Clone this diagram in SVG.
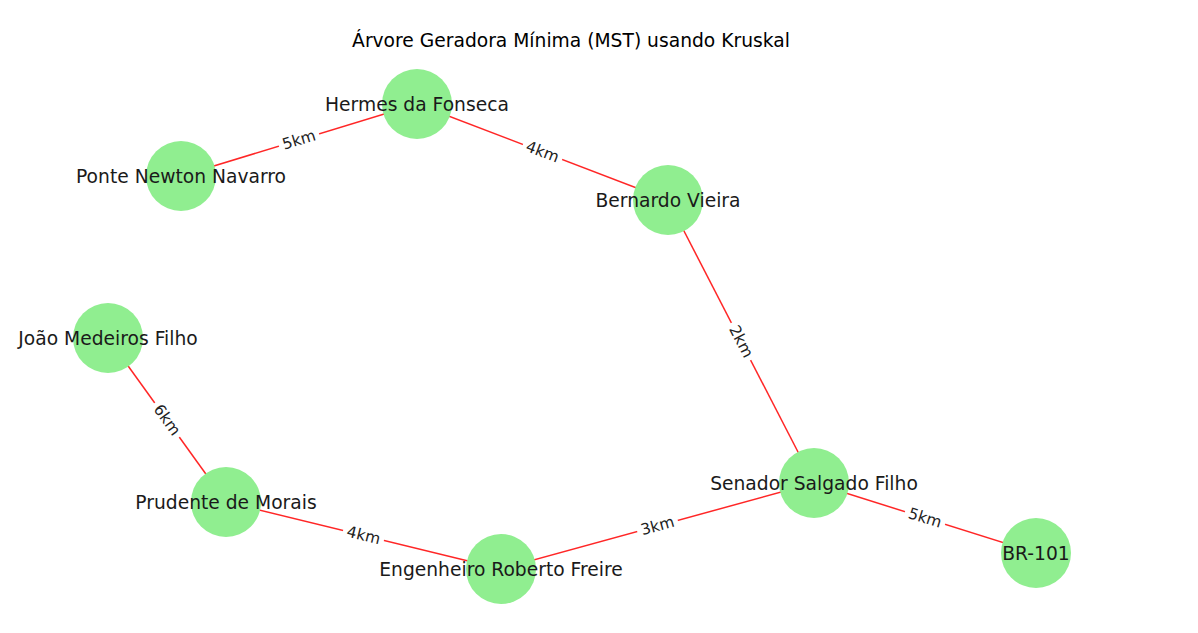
<svg xmlns="http://www.w3.org/2000/svg" width="1198" height="633" viewBox="0 0 1198 633">
<style>
text{font-family:"DejaVu Sans",sans-serif;fill:#000}
.title{font-size:18.7px;text-anchor:middle}
.node circle{fill:#90ee90}
.node text{font-size:18.7px;text-anchor:middle;dominant-baseline:central;fill:#1a1a1a}
.edge line{stroke:#ff0000;stroke-width:1.5;stroke-opacity:0.85}
.elabel rect{fill:#fff}
.elabel text{font-size:15.5px;text-anchor:middle;dominant-baseline:central;fill:#222}
</style>
<rect width="1198" height="633" fill="#fff"/>
<text class="title" x="571" y="47">Árvore Geradora Mínima (MST) usando Kruskal</text>
<g id="connectors">
<g class="edge">
<line x1="181" y1="176" x2="417" y2="104"/>
<line x1="417" y1="104" x2="668" y2="200"/>
<line x1="668" y1="200" x2="814" y2="483"/>
<line x1="108" y1="338" x2="226" y2="502"/>
<line x1="226" y1="502" x2="501" y2="569"/>
<line x1="501" y1="569" x2="814" y2="483"/>
<line x1="814" y1="483" x2="1036" y2="553"/>
</g>
<g class="elabel">
<g transform="translate(299,140) rotate(-16.97)"><rect x="-21" y="-10" width="42" height="20"/><text>5km</text></g>
<g transform="translate(542.5,152) rotate(20.93)"><rect x="-21" y="-10" width="42" height="20"/><text>4km</text></g>
<g transform="translate(741,341.5) rotate(62.7)"><rect x="-21" y="-10" width="42" height="20"/><text>2km</text></g>
<g transform="translate(167,420) rotate(54.3)"><rect x="-21" y="-10" width="42" height="20"/><text>6km</text></g>
<g transform="translate(363.5,535.5) rotate(13.7)"><rect x="-21" y="-10" width="42" height="20"/><text>4km</text></g>
<g transform="translate(657.5,526) rotate(-15.4)"><rect x="-21" y="-10" width="42" height="20"/><text>3km</text></g>
<g transform="translate(925,518) rotate(17.5)"><rect x="-21" y="-10" width="42" height="20"/><text>5km</text></g>
</g>
</g>
<g id="n-hermes" class="node"><circle cx="417" cy="104" r="35"/><text x="417" y="104">Hermes da Fonseca</text></g>
<g id="n-ponte" class="node"><circle cx="181" cy="176" r="35"/><text x="181" y="176">Ponte Newton Navarro</text></g>
<g id="n-bernardo" class="node"><circle cx="668" cy="200" r="35"/><text x="668" y="200">Bernardo Vieira</text></g>
<g id="n-joao" class="node"><circle cx="108" cy="338" r="35"/><text x="108" y="338">João Medeiros Filho</text></g>
<g id="n-prudente" class="node"><circle cx="226" cy="502" r="35"/><text x="226" y="502">Prudente de Morais</text></g>
<g id="n-engenheiro" class="node"><circle cx="501" cy="569" r="35"/><text x="501" y="569">Engenheiro Roberto Freire</text></g>
<g id="n-senador" class="node"><circle cx="814" cy="483" r="35"/><text x="814" y="483">Senador Salgado Filho</text></g>
<g id="n-br101" class="node"><circle cx="1036" cy="553" r="35"/><text x="1036" y="553">BR-101</text></g>
</svg>
